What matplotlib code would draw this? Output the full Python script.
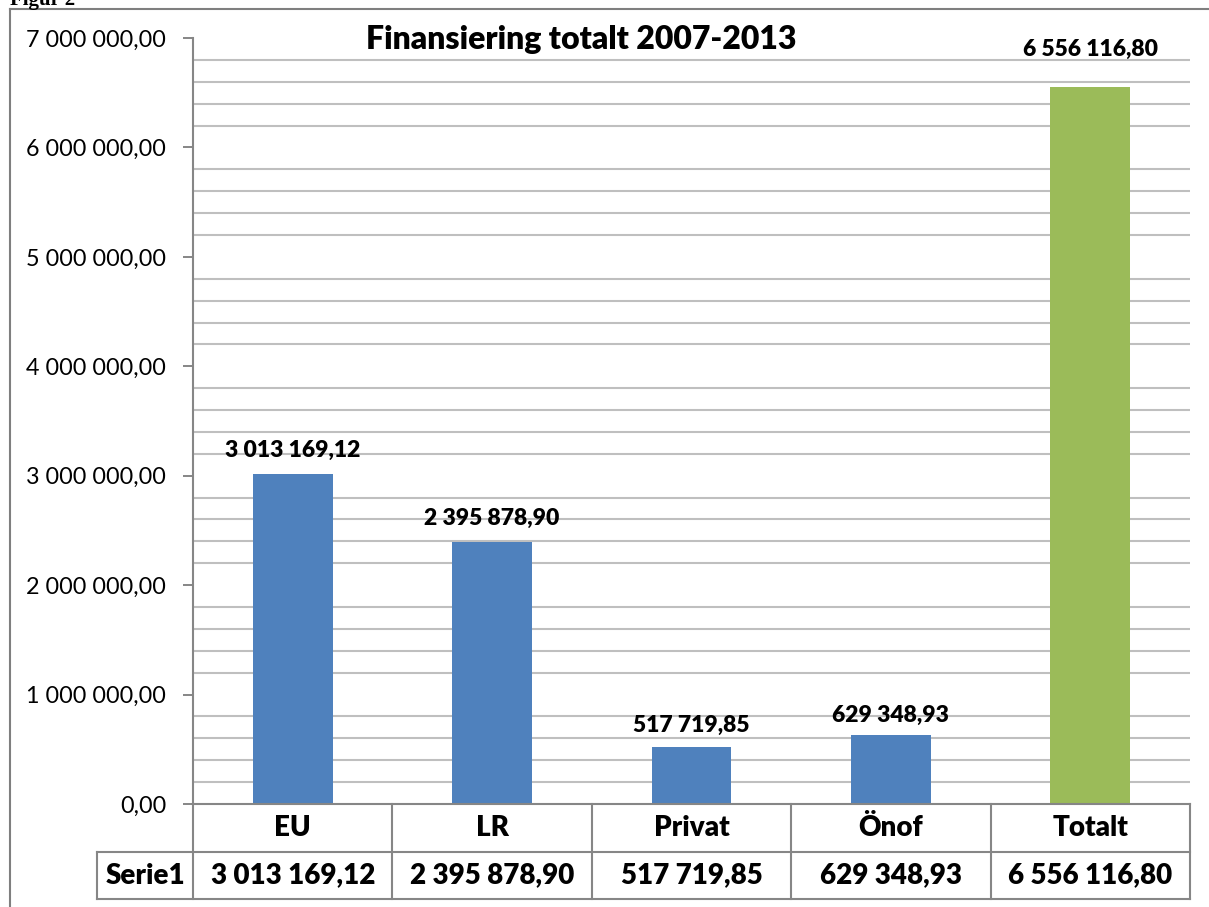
import matplotlib
matplotlib.use("Agg")
import matplotlib.pyplot as plt
from matplotlib.transforms import blended_transform_factory
from matplotlib.lines import Line2D
import numpy as np

categories = ["EU", "LR", "Privat", "Önof", "Totalt"]
values = [3013169.12, 2395878.90, 517719.85, 629348.93, 6556116.80]
value_labels = ["3 013 169,12", "2 395 878,90", "517 719,85", "629 348,93", "6 556 116,80"]
bar_colors = ["#4F81BD", "#4F81BD", "#4F81BD", "#4F81BD", "#9BBB59"]
series_name = "Serie1"
title = "Finansiering totalt 2007-2013"
major_ticks = [0, 1000000, 2000000, 3000000, 4000000, 5000000, 6000000, 7000000]
major_labels = ["0,00", "1 000 000,00", "2 000 000,00", "3 000 000,00",
                "4 000 000,00", "5 000 000,00", "6 000 000,00", "7 000 000,00"]
label_offsets_pt = [17, 17, 15.5, 14.5, 27]

W, H = 1209, 907
FONT = "Lato"
BOLD = "heavy"
GRID = "#BFBFBF"
AXC = "#868686"

fig = plt.figure(figsize=(W / 100, H / 100), dpi=100)

def fx(px):
    return px / W

def fy(py):
    return 1 - py / H

L, R, T, B = 193, 1190, 38, 804
ax = fig.add_axes([fx(L), fy(B), fx(R) - fx(L), fy(T) - fy(B)])
x = np.arange(len(categories))
ax.bar(x, values, width=0.4, color=bar_colors, zorder=3)
ax.set_xlim(-0.5, len(categories) - 0.5)
ax.set_ylim(0, 7000000)

ax.set_yticks(major_ticks)
ax.set_yticklabels(major_labels, fontsize=16.8, family=FONT)
minor = [v for v in range(0, 7000001, 200000) if v % 1000000 != 0]
ax.set_yticks(minor, minor=True)
ax.tick_params(axis="y", which="major", length=7.2, width=1.4, color=AXC, pad=12)
ax.tick_params(axis="y", which="minor", length=0)
ax.grid(axis="y", which="minor", color=GRID, linewidth=1.5, zorder=0)
ax.set_xticks([])
for s in ["top", "right", "bottom"]:
    ax.spines[s].set_visible(False)
ax.spines["left"].set_color(AXC)
ax.spines["left"].set_linewidth(1.5)

for xi, v, lab, off in zip(x, values, value_labels, label_offsets_pt):
    ax.annotate(lab, (xi, v), xytext=(0, off), textcoords="offset points",
                ha="center", va="center", fontsize=16.5, fontweight=BOLD, family=FONT, zorder=5)

# Data table
tr = blended_transform_factory(ax.transData, fig.transFigure)
row_top, row_mid, row_bot = 804, 852, 899
serie_left = 97
lkw = dict(color=AXC, linewidth=1.5, transform=fig.transFigure)
fig.add_artist(Line2D([fx(L), fx(R)], [fy(row_top), fy(row_top)], **lkw))
fig.add_artist(Line2D([fx(serie_left), fx(R)], [fy(row_mid), fy(row_mid)], **lkw))
fig.add_artist(Line2D([fx(serie_left), fx(R)], [fy(row_bot), fy(row_bot)], **lkw))
fig.add_artist(Line2D([fx(serie_left), fx(serie_left)], [fy(row_mid), fy(row_bot)], **lkw))
fig.add_artist(Line2D([fx(L), fx(L)], [fy(row_top), fy(row_bot)], **lkw))
for b in np.arange(0.5, len(categories), 1.0):
    fig.add_artist(Line2D([b, b], [fy(row_top), fy(row_bot)], color=AXC, linewidth=1.5, transform=tr))
for xi, c, lab in zip(x, categories, value_labels):
    fig.text(xi, fy((row_top + row_mid) / 2), c, transform=tr, ha="center", va="center",
             fontsize=20, fontweight=BOLD, family=FONT)
    fig.text(xi, fy((row_mid + row_bot) / 2), lab, transform=tr, ha="center", va="center",
             fontsize=20, fontweight=BOLD, family=FONT)
fig.text(fx((serie_left + L) / 2), fy((row_mid + row_bot) / 2), series_name, ha="center", va="center",
         fontsize=20, fontweight=BOLD, family=FONT)

# Title
fig.text(fx(581), fy(40), title, ha="center", va="center", fontsize=23, fontweight=BOLD, family=FONT)

# Outer frame and caption
fig.add_artist(Line2D([fx(10), fx(10)], [fy(9), 0], color="#7F7F7F", linewidth=1.5))
fig.add_artist(Line2D([fx(10), 1], [fy(9), fy(9)], color="#7F7F7F", linewidth=1.5))
fig.text(fx(10), fy(5), "Figur 2", ha="left", va="baseline", fontsize=15,
         fontweight="bold", family="Liberation Serif")

fig.savefig("out.png", dpi=100)
